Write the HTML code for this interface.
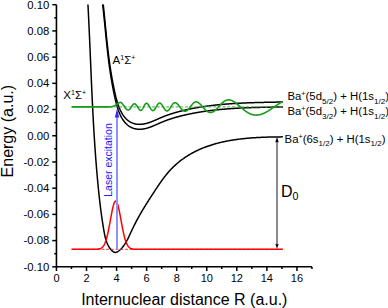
<!DOCTYPE html>
<html><head><meta charset="utf-8"><style>
html,body{margin:0;padding:0;background:#fff;overflow:hidden;width:388px;height:308px;}
svg{display:block;font-family:"Liberation Sans",sans-serif;}
</style></head><body>
<svg width="388" height="308" viewBox="0 0 388 308">
<line x1="56.45" y1="4.699999999999989" x2="56.45" y2="267.6" stroke="#000" stroke-width="1.6"/>
<line x1="55.650000000000006" y1="266.8" x2="311.96" y2="266.8" stroke="#000" stroke-width="1.6"/>
<line x1="52.25" y1="266.80" x2="56.45" y2="266.80" stroke="#000" stroke-width="1.5"/>
<line x1="54.25" y1="253.69" x2="56.45" y2="253.69" stroke="#000" stroke-width="1.5"/>
<line x1="52.25" y1="240.59" x2="56.45" y2="240.59" stroke="#000" stroke-width="1.5"/>
<line x1="54.25" y1="227.49" x2="56.45" y2="227.49" stroke="#000" stroke-width="1.5"/>
<line x1="52.25" y1="214.38" x2="56.45" y2="214.38" stroke="#000" stroke-width="1.5"/>
<line x1="54.25" y1="201.28" x2="56.45" y2="201.28" stroke="#000" stroke-width="1.5"/>
<line x1="52.25" y1="188.17" x2="56.45" y2="188.17" stroke="#000" stroke-width="1.5"/>
<line x1="54.25" y1="175.06" x2="56.45" y2="175.06" stroke="#000" stroke-width="1.5"/>
<line x1="52.25" y1="161.96" x2="56.45" y2="161.96" stroke="#000" stroke-width="1.5"/>
<line x1="54.25" y1="148.85" x2="56.45" y2="148.85" stroke="#000" stroke-width="1.5"/>
<line x1="52.25" y1="135.75" x2="56.45" y2="135.75" stroke="#000" stroke-width="1.5"/>
<line x1="54.25" y1="122.64" x2="56.45" y2="122.64" stroke="#000" stroke-width="1.5"/>
<line x1="52.25" y1="109.54" x2="56.45" y2="109.54" stroke="#000" stroke-width="1.5"/>
<line x1="54.25" y1="96.44" x2="56.45" y2="96.44" stroke="#000" stroke-width="1.5"/>
<line x1="52.25" y1="83.33" x2="56.45" y2="83.33" stroke="#000" stroke-width="1.5"/>
<line x1="54.25" y1="70.22" x2="56.45" y2="70.22" stroke="#000" stroke-width="1.5"/>
<line x1="52.25" y1="57.12" x2="56.45" y2="57.12" stroke="#000" stroke-width="1.5"/>
<line x1="54.25" y1="44.01" x2="56.45" y2="44.01" stroke="#000" stroke-width="1.5"/>
<line x1="52.25" y1="30.91" x2="56.45" y2="30.91" stroke="#000" stroke-width="1.5"/>
<line x1="54.25" y1="17.81" x2="56.45" y2="17.81" stroke="#000" stroke-width="1.5"/>
<line x1="52.25" y1="4.70" x2="56.45" y2="4.70" stroke="#000" stroke-width="1.5"/>
<line x1="56.45" y1="266.8" x2="56.45" y2="271.0" stroke="#000" stroke-width="1.5"/>
<line x1="71.48" y1="266.8" x2="71.48" y2="269.0" stroke="#000" stroke-width="1.5"/>
<line x1="86.51" y1="266.8" x2="86.51" y2="271.0" stroke="#000" stroke-width="1.5"/>
<line x1="101.54" y1="266.8" x2="101.54" y2="269.0" stroke="#000" stroke-width="1.5"/>
<line x1="116.57" y1="266.8" x2="116.57" y2="271.0" stroke="#000" stroke-width="1.5"/>
<line x1="131.60" y1="266.8" x2="131.60" y2="269.0" stroke="#000" stroke-width="1.5"/>
<line x1="146.63" y1="266.8" x2="146.63" y2="271.0" stroke="#000" stroke-width="1.5"/>
<line x1="161.66" y1="266.8" x2="161.66" y2="269.0" stroke="#000" stroke-width="1.5"/>
<line x1="176.69" y1="266.8" x2="176.69" y2="271.0" stroke="#000" stroke-width="1.5"/>
<line x1="191.72" y1="266.8" x2="191.72" y2="269.0" stroke="#000" stroke-width="1.5"/>
<line x1="206.75" y1="266.8" x2="206.75" y2="271.0" stroke="#000" stroke-width="1.5"/>
<line x1="221.78" y1="266.8" x2="221.78" y2="269.0" stroke="#000" stroke-width="1.5"/>
<line x1="236.81" y1="266.8" x2="236.81" y2="271.0" stroke="#000" stroke-width="1.5"/>
<line x1="251.84" y1="266.8" x2="251.84" y2="269.0" stroke="#000" stroke-width="1.5"/>
<line x1="266.87" y1="266.8" x2="266.87" y2="271.0" stroke="#000" stroke-width="1.5"/>
<line x1="281.90" y1="266.8" x2="281.90" y2="269.0" stroke="#000" stroke-width="1.5"/>
<line x1="296.93" y1="266.8" x2="296.93" y2="271.0" stroke="#000" stroke-width="1.5"/>
<line x1="311.96" y1="266.8" x2="311.96" y2="269.0" stroke="#000" stroke-width="1.5"/>
<text x="49.3" y="270.70" text-anchor="end" font-size="11.3">-0.10</text>
<text x="49.3" y="244.49" text-anchor="end" font-size="11.3">-0.08</text>
<text x="49.3" y="218.28" text-anchor="end" font-size="11.3">-0.06</text>
<text x="49.3" y="192.07" text-anchor="end" font-size="11.3">-0.04</text>
<text x="49.3" y="165.86" text-anchor="end" font-size="11.3">-0.02</text>
<text x="49.3" y="139.65" text-anchor="end" font-size="11.3">0.00</text>
<text x="49.3" y="113.44" text-anchor="end" font-size="11.3">0.02</text>
<text x="49.3" y="87.23" text-anchor="end" font-size="11.3">0.04</text>
<text x="49.3" y="61.02" text-anchor="end" font-size="11.3">0.06</text>
<text x="49.3" y="34.81" text-anchor="end" font-size="11.3">0.08</text>
<text x="49.3" y="8.60" text-anchor="end" font-size="11.3">0.10</text>
<text x="56.45" y="282" text-anchor="middle" font-size="11">0</text>
<text x="86.51" y="282" text-anchor="middle" font-size="11">2</text>
<text x="116.57" y="282" text-anchor="middle" font-size="11">4</text>
<text x="146.63" y="282" text-anchor="middle" font-size="11">6</text>
<text x="176.69" y="282" text-anchor="middle" font-size="11">8</text>
<text x="206.75" y="282" text-anchor="middle" font-size="11">10</text>
<text x="236.81" y="282" text-anchor="middle" font-size="11">12</text>
<text x="266.87" y="282" text-anchor="middle" font-size="11">14</text>
<text x="296.93" y="282" text-anchor="middle" font-size="11">16</text>
<text x="184.3" y="304.6" text-anchor="middle" font-size="16">Internuclear distance R (a.u.)</text>
<text transform="translate(12.7 131.2) rotate(-90)" x="0" y="0" text-anchor="middle" font-size="16">Energy (a.u.)</text>
<defs><clipPath id="pc"><rect x="57" y="4.5" width="256" height="262"/></clipPath></defs><g clip-path="url(#pc)">
<path d="M87.37 -5.95L87.42 -5.15L87.46 -4.34L87.51 -3.54L87.55 -2.74L87.60 -1.93L87.64 -1.13L87.69 -0.32L87.73 0.48L87.78 1.29L87.82 2.09L87.86 2.90L87.91 3.70L87.95 4.51L87.99 5.31L88.03 6.12L88.08 6.92L88.12 7.73L88.16 8.54L88.20 9.34L88.24 10.15L88.28 10.95L88.32 11.76L88.36 12.57L88.40 13.37L88.44 14.18L88.48 14.99L88.52 15.79L88.56 16.60L88.60 17.41L88.64 18.21L88.68 19.02L88.72 19.83L88.76 20.63L88.80 21.44L88.84 22.25L88.87 23.06L88.91 23.86L88.95 24.67L88.99 25.48L89.02 26.29L89.06 27.09L89.10 27.90L89.14 28.71L89.17 29.52L89.21 30.32L89.25 31.13L89.28 31.94L89.32 32.75L89.36 33.56L89.39 34.37L89.43 35.17L89.46 35.98L89.50 36.79L89.53 37.60L89.57 38.41L89.61 39.22L89.64 40.03L89.68 40.83L89.71 41.64L89.75 42.45L89.78 43.26L89.82 44.07L89.85 44.88L89.89 45.69L89.92 46.50L89.96 47.31L89.99 48.12L90.03 48.92L90.06 49.73L90.10 50.54L90.13 51.35L90.16 52.16L90.20 52.97L90.23 53.78L90.27 54.59L90.30 55.40L90.34 56.21L90.37 57.02L90.40 57.83L90.44 58.64L90.47 59.45L90.51 60.26L90.54 61.07L90.58 61.88L90.61 62.69L90.65 63.50L90.68 64.31L90.71 65.12L90.75 65.93L90.78 66.74L90.82 67.55L90.85 68.36L90.89 69.17L90.92 69.98L90.96 70.79L90.99 71.60L91.02 72.41L91.06 73.22L91.09 74.03L91.13 74.84L91.16 75.65L91.20 76.46L91.23 77.27L91.27 78.08L91.30 78.89L91.34 79.70L91.38 80.51L91.41 81.32L91.45 82.13L91.48 82.94L91.52 83.75L91.55 84.56L91.59 85.37L91.63 86.18L91.66 86.99L91.70 87.80L91.74 88.61L91.77 89.42L91.81 90.23L91.85 91.04L91.88 91.85L91.92 92.66L91.96 93.47L92.00 94.28L92.03 95.09L92.07 95.90L92.11 96.71L92.15 97.52L92.19 98.33L92.22 99.14L92.26 99.95L92.30 100.76L92.34 101.57L92.38 102.38L92.42 103.19L92.46 104.00L92.50 104.80L92.54 105.61L92.58 106.42L92.62 107.23L92.66 108.04L92.70 108.85L92.74 109.66L92.78 110.47L92.82 111.28L92.87 112.09L92.91 112.90L92.95 113.71L92.99 114.52L93.03 115.33L93.08 116.14L93.12 116.94L93.16 117.75L93.21 118.56L93.25 119.37L93.30 120.18L93.34 120.99L93.38 121.80L93.43 122.61L93.47 123.41L93.52 124.22L93.57 125.03L93.61 125.84L93.66 126.65L93.71 127.46L93.75 128.26L93.80 129.07L93.85 129.88L93.89 130.69L93.94 131.50L93.99 132.30L94.04 133.11L94.09 133.92L94.14 134.73L94.19 135.53L94.24 136.34L94.29 137.15L94.34 137.96L94.39 138.76L94.44 139.57L94.50 140.38L94.55 141.19L94.60 141.99L94.65 142.80L94.71 143.61L94.76 144.41L94.81 145.22L94.87 146.03L94.92 146.83L94.98 147.64L95.04 148.45L95.09 149.25L95.15 150.06L95.20 150.86L95.26 151.67L95.32 152.48L95.38 153.28L95.44 154.09L95.49 154.89L95.55 155.70L95.61 156.50L95.67 157.31L95.73 158.11L95.80 158.92L95.86 159.72L95.92 160.53L95.98 161.33L96.04 162.14L96.11 162.94L96.17 163.75L96.24 164.55L96.30 165.35L96.37 166.16L96.43 166.96L96.50 167.77L96.56 168.57L96.63 169.37L96.70 170.18L96.77 170.98L96.84 171.78L96.90 172.59L96.97 173.39L97.04 174.19L97.11 174.99L97.19 175.80L97.26 176.60L97.33 177.40L97.40 178.20L97.47 179.01L97.55 179.81L97.62 180.61L97.70 181.41L97.77 182.21L97.85 183.01L97.92 183.81L98.00 184.62L98.08 185.42L98.16 186.22L98.24 187.02L98.31 187.82L98.39 188.62L98.47 189.42L98.56 190.22L98.64 191.02L98.72 191.82L98.80 192.62L98.89 193.42L98.97 194.22L99.05 195.02L99.14 195.82L99.23 196.62L99.31 197.42L99.40 198.22L99.49 199.02L99.58 199.82L99.67 200.62L99.76 201.42L99.85 202.22L99.95 203.02L100.04 203.82L100.14 204.62L100.23 205.42L100.33 206.22L100.43 207.03L100.53 207.83L100.63 208.63L100.73 209.44L100.84 210.24L100.94 211.04L101.05 211.85L101.16 212.66L101.26 213.46L101.37 214.27L101.48 215.08L101.60 215.88L101.71 216.69L101.83 217.50L101.94 218.31L102.06 219.12L102.18 219.93L102.30 220.75L102.43 221.56L102.55 222.37L102.68 223.19L102.81 224.00L102.94 224.82L103.07 225.64L103.20 226.46L103.34 227.28L103.47 228.10L103.61 228.92L103.75 229.74L103.89 230.56L104.04 231.39L104.19 232.21L104.34 233.04L104.50 233.86L104.66 234.68L104.83 235.49L105.01 236.31L105.20 237.12L105.40 237.92L105.61 238.72L105.84 239.51L106.07 240.29L106.32 241.06L106.59 241.83L106.87 242.59L107.18 243.33L107.49 244.07L107.83 244.79L108.19 245.50L108.57 246.20L108.98 246.88L109.40 247.55L109.85 248.20L110.33 248.83L110.83 249.45L111.37 250.05L111.92 250.63L112.51 251.17L113.12 251.65L113.74 252.05L114.38 252.33L115.03 252.48L115.69 252.48L116.36 252.33L117.02 252.06L117.68 251.69L118.32 251.25L118.95 250.77L119.57 250.26L120.16 249.73L120.73 249.18L121.29 248.61L121.83 248.03L122.35 247.43L122.85 246.82L123.34 246.19L123.82 245.55L124.28 244.90L124.73 244.23L125.17 243.55L125.60 242.86L126.02 242.16L126.42 241.45L126.82 240.73L127.21 240.01L127.59 239.28L127.97 238.54L128.33 237.80L128.70 237.05L129.06 236.30L129.41 235.54L129.77 234.78L130.12 234.03L130.46 233.27L130.81 232.51L131.16 231.75L131.51 230.99L131.86 230.23L132.21 229.48L132.57 228.73L132.92 227.99L133.28 227.24L133.65 226.50L134.01 225.77L134.38 225.03L134.75 224.30L135.12 223.57L135.49 222.85L135.87 222.12L136.25 221.40L136.63 220.68L137.01 219.97L137.39 219.25L137.78 218.54L138.17 217.83L138.56 217.13L138.95 216.42L139.35 215.72L139.74 215.02L140.14 214.32L140.54 213.62L140.95 212.92L141.35 212.23L141.76 211.54L142.16 210.85L142.57 210.16L142.98 209.47L143.40 208.78L143.81 208.10L144.23 207.42L144.65 206.73L145.06 206.05L145.49 205.37L145.91 204.69L146.33 204.01L146.76 203.33L147.18 202.66L147.61 201.98L148.04 201.30L148.47 200.63L148.90 199.95L149.33 199.28L149.77 198.61L150.20 197.93L150.64 197.26L151.08 196.59L151.51 195.91L151.95 195.24L152.39 194.57L152.84 193.89L153.28 193.22L153.72 192.54L154.17 191.87L154.61 191.20L155.06 190.52L155.50 189.85L155.95 189.17L156.40 188.49L156.85 187.82L157.30 187.14L157.75 186.46L158.21 185.79L158.66 185.11L159.12 184.44L159.58 183.77L160.05 183.10L160.51 182.43L160.98 181.76L161.45 181.09L161.92 180.43L162.40 179.77L162.88 179.11L163.37 178.45L163.85 177.80L164.35 177.15L164.84 176.50L165.34 175.86L165.85 175.22L166.36 174.59L166.87 173.96L167.39 173.33L167.92 172.71L168.45 172.09L168.98 171.48L169.52 170.87L170.07 170.27L170.62 169.68L171.18 169.09L171.75 168.50L172.32 167.92L172.89 167.35L173.47 166.79L174.06 166.23L174.66 165.67L175.25 165.12L175.86 164.58L176.47 164.04L177.08 163.51L177.70 162.99L178.32 162.47L178.95 161.96L179.58 161.45L180.22 160.95L180.86 160.45L181.51 159.96L182.16 159.48L182.82 159.01L183.48 158.54L184.14 158.07L184.81 157.61L185.48 157.16L186.15 156.72L186.83 156.28L187.51 155.84L188.20 155.42L188.88 155.00L189.58 154.58L190.27 154.18L190.97 153.78L191.67 153.38L192.37 152.99L193.08 152.61L193.79 152.23L194.50 151.86L195.22 151.50L195.94 151.14L196.66 150.79L197.38 150.45L198.11 150.11L198.84 149.77L199.57 149.44L200.30 149.12L201.04 148.80L201.78 148.49L202.52 148.18L203.26 147.88L204.01 147.59L204.76 147.30L205.51 147.02L206.26 146.74L207.01 146.46L207.77 146.19L208.53 145.93L209.29 145.67L210.05 145.42L210.82 145.17L211.59 144.93L212.36 144.69L213.13 144.45L213.90 144.23L214.67 144.00L215.45 143.78L216.23 143.57L217.01 143.36L217.79 143.15L218.57 142.95L219.36 142.75L220.14 142.56L220.93 142.37L221.72 142.19L222.51 142.01L223.30 141.83L224.10 141.66L224.89 141.50L225.69 141.33L226.48 141.17L227.28 141.02L228.08 140.87L228.88 140.72L229.68 140.58L230.48 140.44L231.29 140.30L232.09 140.17L232.89 140.04L233.70 139.91L234.51 139.79L235.31 139.67L236.12 139.55L236.93 139.44L237.74 139.33L238.55 139.23L239.36 139.13L240.17 139.03L240.98 138.93L241.80 138.84L242.61 138.75L243.42 138.66L244.23 138.57L245.05 138.49L245.86 138.41L246.67 138.34L247.49 138.26L248.30 138.19L249.12 138.12L249.93 138.06L250.75 137.99L251.56 137.93L252.37 137.87L253.19 137.81L254.00 137.76L254.82 137.71L255.63 137.66L256.44 137.61L257.26 137.56L258.07 137.52L258.88 137.48L259.69 137.44L260.50 137.40L261.32 137.36L262.13 137.33L262.94 137.29L263.74 137.26L264.55 137.23L265.36 137.20L266.17 137.17L266.97 137.15L267.78 137.12L268.58 137.10L269.39 137.08L270.19 137.06L270.99 137.04L271.79 137.02L272.59 137.00L273.39 136.99L274.19 136.97L274.99 136.96L275.78 136.94L276.58 136.93L277.37 136.92L278.16 136.91L278.95 136.90L279.74 136.89L280.52 136.88L281.31 136.87L282.09 136.86L282.88 136.85" fill="none" stroke="#000" stroke-width="1.5"/>
<path d="M101.99 -6.29L102.05 -5.78L102.12 -5.26L102.18 -4.75L102.24 -4.23L102.30 -3.72L102.36 -3.21L102.42 -2.69L102.48 -2.18L102.54 -1.67L102.60 -1.16L102.65 -0.66L102.71 -0.15L102.77 0.36L102.83 0.86L102.88 1.37L102.94 1.87L103.00 2.38L103.05 2.88L103.11 3.38L103.16 3.88L103.22 4.38L103.27 4.88L103.32 5.38L103.38 5.88L103.43 6.37L103.48 6.87L103.54 7.36L103.59 7.86L103.64 8.35L103.69 8.85L103.74 9.34L103.79 9.83L103.85 10.32L103.90 10.81L103.95 11.30L104.00 11.79L104.05 12.28L104.10 12.77L104.15 13.26L104.20 13.74L104.25 14.23L104.29 14.71L104.34 15.20L104.39 15.68L104.44 16.17L104.49 16.65L104.54 17.13L104.59 17.62L104.63 18.10L104.68 18.58L104.73 19.06L104.78 19.54L104.82 20.02L104.87 20.50L104.92 20.98L104.97 21.46L105.01 21.93L105.06 22.41L105.11 22.89L105.15 23.36L105.20 23.84L105.25 24.32L105.29 24.79L105.34 25.27L105.39 25.74L105.43 26.21L105.48 26.69L105.53 27.16L105.57 27.63L105.62 28.11L105.67 28.58L105.71 29.05L105.76 29.52L105.81 29.99L105.85 30.46L105.90 30.94L105.95 31.41L105.99 31.88L106.04 32.35L106.09 32.82L106.13 33.28L106.18 33.75L106.23 34.22L106.28 34.69L106.32 35.16L106.37 35.63L106.42 36.10L106.47 36.56L106.51 37.03L106.56 37.50L106.61 37.97L106.66 38.43L106.71 38.90L106.76 39.37L106.81 39.83L106.86 40.30L106.90 40.77L106.95 41.23L107.00 41.70L107.05 42.17L107.10 42.63L107.15 43.10L107.20 43.57L107.26 44.03L107.31 44.50L107.36 44.96L107.41 45.43L107.46 45.90L107.51 46.36L107.57 46.83L107.62 47.29L107.67 47.76L107.72 48.23L107.78 48.69L107.83 49.16L107.89 49.63L107.94 50.09L107.99 50.56L108.05 51.03L108.11 51.49L108.16 51.96L108.22 52.43L108.27 52.89L108.33 53.36L108.39 53.83L108.45 54.29L108.50 54.76L108.56 55.23L108.62 55.70L108.68 56.17L108.74 56.63L108.80 57.10L108.86 57.57L108.92 58.04L108.98 58.51L109.05 58.98L109.11 59.45L109.17 59.92L109.24 60.39L109.30 60.86L109.36 61.33L109.43 61.80L109.49 62.27L109.56 62.74L109.63 63.22L109.69 63.69L109.76 64.16L109.83 64.63L109.90 65.11L109.97 65.58L110.04 66.06L110.11 66.53L110.18 67.01L110.25 67.48L110.32 67.96L110.39 68.43L110.47 68.91L110.54 69.39L110.62 69.86L110.69 70.34L110.77 70.82L110.84 71.30L110.92 71.78L111.00 72.26L111.08 72.74L111.15 73.22L111.23 73.70L111.31 74.18L111.40 74.66L111.48 75.15L111.56 75.63L111.64 76.12L111.73 76.60L111.81 77.09L111.90 77.57L111.98 78.06L112.07 78.54L112.16 79.03L112.24 79.52L112.33 80.01L112.42 80.50L112.51 80.99L112.60 81.48L112.70 81.97L112.79 82.46L112.88 82.96L112.98 83.45L113.07 83.94L113.17 84.44L113.27 84.94L113.36 85.43L113.46 85.93L113.56 86.43L113.66 86.93L113.76 87.43L113.87 87.93L113.97 88.43L114.07 88.93L114.18 89.43L114.28 89.93L114.39 90.44L114.50 90.94L114.61 91.45L114.71 91.96L114.83 92.46L114.94 92.97L115.05 93.47L115.17 93.98L115.28 94.49L115.40 94.99L115.52 95.50L115.64 96.00L115.76 96.51L115.89 97.01L116.02 97.51L116.14 98.02L116.27 98.52L116.41 99.02L116.54 99.51L116.68 100.01L116.82 100.51L116.96 101.00L117.10 101.49L117.25 101.98L117.40 102.47L117.55 102.95L117.71 103.44L117.86 103.92L118.02 104.40L118.19 104.87L118.35 105.34L118.52 105.81L118.69 106.28L118.87 106.74L119.05 107.21L119.23 107.66L119.42 108.12L119.61 108.57L119.80 109.01L119.99 109.46L120.19 109.89L120.40 110.33L120.60 110.76L120.81 111.18L121.03 111.61L121.25 112.02L121.47 112.44L121.70 112.84L121.93 113.25L122.17 113.64L122.41 114.04L122.65 114.42L122.90 114.81L123.15 115.18L123.41 115.55L123.67 115.92L123.94 116.28L124.21 116.63L124.49 116.98L124.77 117.32L125.06 117.65L125.35 117.98L125.65 118.30L125.95 118.62L126.26 118.93L126.58 119.23L126.90 119.52L127.22 119.81L127.55 120.09L127.89 120.36L128.23 120.63L128.57 120.88L128.93 121.13L129.29 121.38L129.65 121.61L130.02 121.84L130.40 122.05L130.78 122.26L131.17 122.46L131.57 122.65L131.97 122.84L132.37 123.01L132.79 123.17L133.20 123.33L133.62 123.47L134.05 123.61L134.48 123.73L134.91 123.85L135.35 123.95L135.79 124.04L136.23 124.12L136.68 124.19L137.13 124.25L137.59 124.30L138.05 124.33L138.51 124.36L138.97 124.37L139.43 124.38L139.90 124.37L140.37 124.36L140.84 124.33L141.32 124.30L141.79 124.25L142.27 124.20L142.74 124.14L143.22 124.07L143.70 123.99L144.18 123.90L144.66 123.81L145.14 123.71L145.63 123.60L146.11 123.48L146.59 123.36L147.07 123.23L147.55 123.09L148.03 122.95L148.51 122.80L148.99 122.64L149.47 122.48L149.95 122.31L150.42 122.14L150.90 121.97L151.37 121.78L151.84 121.60L152.32 121.41L152.79 121.22L153.26 121.02L153.72 120.83L154.19 120.63L154.66 120.42L155.13 120.22L155.59 120.02L156.06 119.81L156.52 119.60L156.99 119.40L157.45 119.19L157.92 118.98L158.38 118.78L158.84 118.57L159.30 118.37L159.77 118.17L160.23 117.97L160.69 117.77L161.15 117.57L161.61 117.38L162.07 117.19L162.53 117.00L163.00 116.82L163.46 116.63L163.92 116.45L164.38 116.27L164.84 116.09L165.30 115.92L165.76 115.75L166.22 115.58L166.68 115.41L167.14 115.24L167.60 115.08L168.06 114.91L168.52 114.75L168.98 114.59L169.44 114.43L169.90 114.28L170.36 114.13L170.83 113.97L171.29 113.82L171.75 113.68L172.21 113.53L172.67 113.39L173.13 113.24L173.59 113.10L174.05 112.96L174.51 112.82L174.97 112.69L175.43 112.55L175.90 112.42L176.36 112.29L176.82 112.16L177.28 112.03L177.74 111.90L178.21 111.78L178.67 111.65L179.13 111.53L179.60 111.41L180.06 111.29L180.52 111.17L180.99 111.05L181.45 110.93L181.92 110.82L182.38 110.70L182.85 110.59L183.31 110.48L183.78 110.37L184.24 110.26L184.71 110.15L185.17 110.04L185.64 109.93L186.11 109.83L186.58 109.73L187.04 109.62L187.51 109.52L187.98 109.42L188.45 109.32L188.92 109.22L189.39 109.12L189.86 109.02L190.33 108.93L190.80 108.83L191.27 108.74L191.74 108.64L192.21 108.55L192.69 108.46L193.16 108.37L193.63 108.28L194.10 108.19L194.58 108.10L195.05 108.01L195.52 107.93L196.00 107.84L196.47 107.76L196.95 107.67L197.42 107.59L197.89 107.51L198.37 107.43L198.85 107.35L199.32 107.27L199.80 107.19L200.27 107.12L200.75 107.04L201.23 106.96L201.70 106.89L202.18 106.81L202.66 106.74L203.14 106.67L203.61 106.60L204.09 106.53L204.57 106.46L205.05 106.39L205.53 106.32L206.01 106.25L206.49 106.19L206.97 106.12L207.45 106.06L207.93 105.99L208.41 105.93L208.89 105.87L209.37 105.80L209.85 105.74L210.33 105.68L210.81 105.62L211.29 105.56L211.77 105.51L212.25 105.45L212.74 105.39L213.22 105.34L213.70 105.28L214.18 105.23L214.66 105.17L215.15 105.12L215.63 105.07L216.11 105.01L216.60 104.96L217.08 104.91L217.56 104.86L218.05 104.81L218.53 104.77L219.01 104.72L219.50 104.67L219.98 104.62L220.47 104.58L220.95 104.53L221.44 104.49L221.92 104.44L222.41 104.40L222.89 104.36L223.38 104.32L223.86 104.27L224.35 104.23L224.83 104.19L225.32 104.15L225.80 104.11L226.29 104.07L226.77 104.04L227.26 104.00L227.74 103.96L228.23 103.93L228.72 103.89L229.20 103.85L229.69 103.82L230.18 103.78L230.66 103.75L231.15 103.72L231.63 103.68L232.12 103.65L232.61 103.62L233.09 103.59L233.58 103.56L234.07 103.53L234.55 103.50L235.04 103.47L235.53 103.44L236.02 103.41L236.50 103.38L236.99 103.36L237.48 103.33L237.96 103.30L238.45 103.28L238.94 103.25L239.42 103.22L239.91 103.20L240.40 103.18L240.89 103.15L241.37 103.13L241.86 103.10L242.35 103.08L242.83 103.06L243.32 103.04L243.81 103.01L244.30 102.99L244.78 102.97L245.27 102.95L245.76 102.93L246.24 102.91L246.73 102.89L247.22 102.87L247.70 102.85L248.19 102.83L248.68 102.82L249.16 102.80L249.65 102.78L250.14 102.76L250.62 102.75L251.11 102.73L251.60 102.71L252.08 102.70L252.57 102.68L253.06 102.66L253.54 102.65L254.03 102.63L254.52 102.62L255.00 102.60L255.49 102.59L255.97 102.58L256.46 102.56L256.94 102.55L257.43 102.53L257.92 102.52L258.40 102.51L258.89 102.49L259.37 102.48L259.86 102.47L260.34 102.46L260.83 102.45L261.31 102.43L261.80 102.42L262.28 102.41L262.76 102.40L263.25 102.39L263.73 102.38L264.22 102.37L264.70 102.35L265.18 102.34L265.67 102.33L266.15 102.32L266.63 102.31L267.12 102.30L267.60 102.29L268.08 102.28L268.56 102.27L269.05 102.26L269.53 102.25L270.01 102.24L270.49 102.23L270.97 102.22L271.46 102.22L271.94 102.21L272.42 102.20L272.90 102.19L273.38 102.18L273.86 102.17L274.34 102.16L274.82 102.15L275.30 102.14L275.78 102.13L276.26 102.12L276.74 102.11L277.22 102.11L277.70 102.10L278.18 102.09L278.66 102.08L279.13 102.07L279.61 102.06L280.09 102.05L280.57 102.04L281.04 102.03L281.52 102.02L282.00 102.01L282.47 102.00L282.95 102.00" fill="none" stroke="#000" stroke-width="1.5"/>
<path d="M101.99 -1.39L102.05 -0.88L102.12 -0.36L102.18 0.15L102.24 0.67L102.30 1.18L102.36 1.69L102.42 2.21L102.48 2.72L102.54 3.23L102.60 3.74L102.65 4.24L102.71 4.75L102.77 5.26L102.83 5.76L102.88 6.27L102.94 6.77L103.00 7.28L103.05 7.78L103.11 8.28L103.16 8.78L103.22 9.28L103.27 9.78L103.32 10.28L103.38 10.78L103.43 11.27L103.48 11.77L103.54 12.26L103.59 12.76L103.64 13.25L103.69 13.75L103.74 14.24L103.79 14.73L103.85 15.22L103.90 15.71L103.95 16.20L104.00 16.69L104.05 17.18L104.10 17.67L104.15 18.16L104.20 18.64L104.25 19.13L104.29 19.61L104.34 20.10L104.39 20.58L104.44 21.07L104.49 21.55L104.54 22.03L104.59 22.52L104.63 23.00L104.68 23.48L104.73 23.96L104.78 24.44L104.82 24.92L104.87 25.40L104.92 25.88L104.97 26.36L105.01 26.83L105.06 27.31L105.11 27.79L105.15 28.26L105.20 28.74L105.25 29.22L105.29 29.69L105.34 30.17L105.39 30.64L105.43 31.11L105.48 31.59L105.53 32.06L105.57 32.53L105.62 33.01L105.67 33.48L105.71 33.95L105.76 34.42L105.81 34.89L105.85 35.36L105.90 35.84L105.95 36.31L105.99 36.78L106.04 37.25L106.09 37.72L106.13 38.18L106.18 38.65L106.23 39.12L106.28 39.59L106.32 40.06L106.37 40.53L106.42 41.00L106.47 41.46L106.51 41.93L106.56 42.40L106.61 42.87L106.66 43.33L106.71 43.80L106.76 44.27L106.81 44.73L106.86 45.20L106.90 45.67L106.95 46.13L107.00 46.60L107.05 47.07L107.10 47.53L107.15 48.00L107.20 48.47L107.26 48.93L107.31 49.40L107.36 49.86L107.41 50.33L107.46 50.80L107.51 51.26L107.57 51.73L107.62 52.19L107.67 52.66L107.72 53.13L107.78 53.59L107.83 54.06L107.89 54.53L107.94 54.99L107.99 55.46L108.05 55.93L108.11 56.39L108.16 56.86L108.22 57.33L108.27 57.79L108.33 58.26L108.39 58.73L108.45 59.19L108.50 59.66L108.56 60.13L108.62 60.60L108.68 61.07L108.74 61.53L108.80 62.00L108.86 62.47L108.92 62.94L108.98 63.41L109.05 63.88L109.11 64.35L109.17 64.82L109.24 65.29L109.30 65.76L109.36 66.23L109.43 66.70L109.49 67.17L109.56 67.64L109.63 68.12L109.69 68.59L109.76 69.06L109.83 69.53L109.90 70.01L109.97 70.48L110.04 70.96L110.11 71.43L110.18 71.91L110.25 72.38L110.32 72.86L110.39 73.33L110.47 73.81L110.54 74.29L110.62 74.76L110.69 75.24L110.77 75.72L110.84 76.20L110.92 76.68L111.00 77.16L111.08 77.64L111.15 78.12L111.23 78.60L111.31 79.08L111.40 79.56L111.48 80.05L111.56 80.53L111.64 81.02L111.73 81.50L111.81 81.99L111.90 82.47L111.98 82.96L112.07 83.44L112.16 83.93L112.24 84.42L112.33 84.91L112.42 85.40L112.51 85.89L112.60 86.38L112.70 86.87L112.79 87.36L112.88 87.86L112.98 88.35L113.07 88.84L113.17 89.34L113.27 89.84L113.36 90.33L113.46 90.83L113.56 91.33L113.66 91.83L113.76 92.33L113.87 92.83L113.97 93.33L114.07 93.83L114.18 94.33L114.28 94.83L114.39 95.34L114.50 95.84L114.61 96.35L114.71 96.86L114.83 97.36L114.94 97.87L115.05 98.37L115.17 98.88L115.28 99.39L115.40 99.89L115.52 100.40L115.64 100.90L115.76 101.41L115.89 101.91L116.02 102.41L116.14 102.92L116.27 103.42L116.41 103.92L116.54 104.41L116.68 104.91L116.82 105.41L116.96 105.90L117.10 106.39L117.25 106.88L117.40 107.37L117.55 107.85L117.71 108.34L117.86 108.82L118.02 109.30L118.19 109.77L118.35 110.24L118.52 110.71L118.69 111.18L118.87 111.64L119.05 112.11L119.23 112.56L119.42 113.02L119.61 113.47L119.80 113.91L119.99 114.36L120.19 114.79L120.40 115.23L120.60 115.66L120.81 116.08L121.03 116.51L121.25 116.92L121.47 117.34L121.70 117.74L121.93 118.15L122.17 118.54L122.41 118.94L122.65 119.32L122.90 119.71L123.15 120.08L123.41 120.45L123.67 120.82L123.94 121.18L124.21 121.53L124.49 121.88L124.77 122.22L125.06 122.55L125.35 122.88L125.65 123.20L125.95 123.52L126.26 123.83L126.58 124.13L126.90 124.42L127.22 124.71L127.55 124.99L127.89 125.26L128.23 125.53L128.57 125.78L128.93 126.03L129.29 126.28L129.65 126.51L130.02 126.74L130.40 126.95L130.78 127.16L131.17 127.36L131.57 127.55L131.97 127.74L132.37 127.91L132.79 128.07L133.20 128.23L133.62 128.37L134.05 128.51L134.48 128.63L134.91 128.75L135.35 128.85L135.79 128.94L136.23 129.02L136.68 129.09L137.13 129.15L137.59 129.20L138.05 129.23L138.51 129.26L138.97 129.27L139.43 129.28L139.90 129.27L140.37 129.26L140.84 129.23L141.32 129.20L141.79 129.15L142.27 129.10L142.74 129.04L143.22 128.97L143.70 128.89L144.18 128.80L144.66 128.71L145.14 128.61L145.63 128.50L146.11 128.38L146.59 128.26L147.07 128.13L147.55 127.99L148.03 127.85L148.51 127.70L148.99 127.54L149.47 127.38L149.95 127.21L150.42 127.04L150.90 126.87L151.37 126.68L151.84 126.50L152.32 126.31L152.79 126.12L153.26 125.92L153.72 125.73L154.19 125.53L154.66 125.32L155.13 125.12L155.59 124.92L156.06 124.71L156.52 124.50L156.99 124.30L157.45 124.09L157.92 123.88L158.38 123.68L158.84 123.47L159.30 123.27L159.77 123.07L160.23 122.87L160.69 122.67L161.15 122.47L161.61 122.28L162.07 122.09L162.53 121.90L163.00 121.72L163.46 121.53L163.92 121.35L164.38 121.17L164.84 120.99L165.30 120.82L165.76 120.65L166.22 120.48L166.68 120.31L167.14 120.14L167.60 119.98L168.06 119.81L168.52 119.65L168.98 119.49L169.44 119.33L169.90 119.18L170.36 119.03L170.83 118.87L171.29 118.72L171.75 118.58L172.21 118.43L172.67 118.29L173.13 118.14L173.59 118.00L174.05 117.86L174.51 117.72L174.97 117.59L175.43 117.45L175.90 117.32L176.36 117.19L176.82 117.06L177.28 116.93L177.74 116.80L178.21 116.68L178.67 116.55L179.13 116.43L179.60 116.31L180.06 116.19L180.52 116.07L180.99 115.95L181.45 115.83L181.92 115.72L182.38 115.60L182.85 115.49L183.31 115.38L183.78 115.27L184.24 115.16L184.71 115.05L185.17 114.94L185.64 114.83L186.11 114.73L186.58 114.63L187.04 114.52L187.51 114.42L187.98 114.32L188.45 114.22L188.92 114.12L189.39 114.02L189.86 113.92L190.33 113.83L190.80 113.73L191.27 113.64L191.74 113.54L192.21 113.45L192.69 113.36L193.16 113.27L193.63 113.18L194.10 113.09L194.58 113.00L195.05 112.91L195.52 112.83L196.00 112.74L196.47 112.66L196.95 112.57L197.42 112.49L197.89 112.41L198.37 112.33L198.85 112.25L199.32 112.17L199.80 112.09L200.27 112.02L200.75 111.94L201.23 111.86L201.70 111.79L202.18 111.71L202.66 111.64L203.14 111.57L203.61 111.50L204.09 111.43L204.57 111.36L205.05 111.29L205.53 111.22L206.01 111.15L206.49 111.09L206.97 111.02L207.45 110.96L207.93 110.89L208.41 110.83L208.89 110.77L209.37 110.70L209.85 110.64L210.33 110.58L210.81 110.52L211.29 110.46L211.77 110.41L212.25 110.35L212.74 110.29L213.22 110.24L213.70 110.18L214.18 110.13L214.66 110.07L215.15 110.02L215.63 109.97L216.11 109.91L216.60 109.86L217.08 109.81L217.56 109.76L218.05 109.71L218.53 109.67L219.01 109.62L219.50 109.57L219.98 109.52L220.47 109.48L220.95 109.43L221.44 109.39L221.92 109.34L222.41 109.30L222.89 109.26L223.38 109.22L223.86 109.17L224.35 109.13L224.83 109.09L225.32 109.05L225.80 109.01L226.29 108.97L226.77 108.94L227.26 108.90L227.74 108.86L228.23 108.83L228.72 108.79L229.20 108.75L229.69 108.72L230.18 108.68L230.66 108.65L231.15 108.62L231.63 108.58L232.12 108.55L232.61 108.52L233.09 108.49L233.58 108.46L234.07 108.43L234.55 108.40L235.04 108.37L235.53 108.34L236.02 108.31L236.50 108.28L236.99 108.26L237.48 108.23L237.96 108.20L238.45 108.18L238.94 108.15L239.42 108.12L239.91 108.10L240.40 108.08L240.89 108.05L241.37 108.03L241.86 108.00L242.35 107.98L242.83 107.96L243.32 107.94L243.81 107.91L244.30 107.89L244.78 107.87L245.27 107.85L245.76 107.83L246.24 107.81L246.73 107.79L247.22 107.77L247.70 107.75L248.19 107.73L248.68 107.72L249.16 107.70L249.65 107.68L250.14 107.66L250.62 107.65L251.11 107.63L251.60 107.61L252.08 107.60L252.57 107.58L253.06 107.56L253.54 107.55L254.03 107.53L254.52 107.52L255.00 107.50L255.49 107.49L255.97 107.48L256.46 107.46L256.94 107.45L257.43 107.43L257.92 107.42L258.40 107.41L258.89 107.39L259.37 107.38L259.86 107.37L260.34 107.36L260.83 107.35L261.31 107.33L261.80 107.32L262.28 107.31L262.76 107.30L263.25 107.29L263.73 107.28L264.22 107.27L264.70 107.25L265.18 107.24L265.67 107.23L266.15 107.22L266.63 107.21L267.12 107.20L267.60 107.19L268.08 107.18L268.56 107.17L269.05 107.16L269.53 107.15L270.01 107.14L270.49 107.13L270.97 107.12L271.46 107.12L271.94 107.11L272.42 107.10L272.90 107.09L273.38 107.08L273.86 107.07L274.34 107.06L274.82 107.05L275.30 107.04L275.78 107.03L276.26 107.02L276.74 107.01L277.22 107.01L277.70 107.00L278.18 106.99L278.66 106.98L279.13 106.97L279.61 106.96L280.09 106.95L280.57 106.94L281.04 106.93L281.52 106.92L282.00 106.91L282.47 106.90L282.95 106.90" fill="none" stroke="#000" stroke-width="1.5"/>
</g>
<line x1="71.48" y1="249.3" x2="281.9" y2="249.3" stroke="#ff3030" stroke-width="1" stroke-dasharray="2.9 1.8" stroke-dashoffset="2.9"/>
<line x1="71.48" y1="106.9" x2="281.9" y2="106.9" stroke="#44b044" stroke-width="1" stroke-dasharray="3 1.7" stroke-dashoffset="4.0"/>
<path d="M71.48 106.90L71.66 106.90L71.83 106.90L72.01 106.90L72.19 106.90L72.36 106.90L72.54 106.90L72.71 106.90L72.89 106.90L73.07 106.90L73.24 106.90L73.42 106.90L73.60 106.90L73.77 106.90L73.95 106.90L74.12 106.90L74.30 106.90L74.48 106.90L74.65 106.90L74.83 106.90L75.01 106.90L75.18 106.90L75.36 106.90L75.54 106.90L75.71 106.90L75.89 106.90L76.06 106.90L76.24 106.90L76.42 106.90L76.59 106.90L76.77 106.90L76.95 106.90L77.12 106.90L77.30 106.90L77.48 106.90L77.65 106.90L77.83 106.90L78.00 106.90L78.18 106.90L78.36 106.90L78.53 106.90L78.71 106.90L78.89 106.90L79.06 106.90L79.24 106.90L79.41 106.90L79.59 106.90L79.77 106.90L79.94 106.90L80.12 106.90L80.30 106.90L80.47 106.90L80.65 106.90L80.83 106.90L81.00 106.90L81.18 106.90L81.35 106.90L81.53 106.90L81.71 106.90L81.88 106.90L82.06 106.90L82.24 106.90L82.41 106.90L82.59 106.90L82.77 106.90L82.94 106.90L83.12 106.90L83.29 106.90L83.47 106.90L83.65 106.90L83.82 106.90L84.00 106.90L84.18 106.90L84.35 106.90L84.53 106.90L84.70 106.90L84.88 106.90L85.06 106.90L85.23 106.90L85.41 106.90L85.59 106.90L85.76 106.90L85.94 106.90L86.12 106.90L86.29 106.90L86.47 106.90L86.64 106.90L86.82 106.90L87.00 106.90L87.17 106.90L87.35 106.90L87.53 106.90L87.70 106.90L87.88 106.90L88.06 106.90L88.23 106.90L88.41 106.90L88.58 106.90L88.76 106.90L88.94 106.90L89.11 106.90L89.29 106.90L89.47 106.90L89.64 106.90L89.82 106.90L89.99 106.90L90.17 106.90L90.35 106.90L90.52 106.90L90.70 106.90L90.88 106.90L91.05 106.90L91.23 106.90L91.41 106.90L91.58 106.90L91.76 106.90L91.93 106.90L92.11 106.90L92.29 106.90L92.46 106.90L92.64 106.90L92.82 106.90L92.99 106.90L93.17 106.90L93.34 106.90L93.52 106.90L93.70 106.90L93.87 106.90L94.05 106.90L94.23 106.90L94.40 106.90L94.58 106.90L94.76 106.90L94.93 106.90L95.11 106.90L95.28 106.90L95.46 106.90L95.64 106.90L95.81 106.90L95.99 106.90L96.17 106.90L96.34 106.90L96.52 106.90L96.70 106.90L96.87 106.90L97.05 106.90L97.22 106.90L97.40 106.90L97.58 106.90L97.75 106.90L97.93 106.90L98.11 106.90L98.28 106.90L98.46 106.90L98.63 106.90L98.81 106.90L98.99 106.90L99.16 106.90L99.34 106.90L99.52 106.90L99.69 106.90L99.87 106.90L100.05 106.90L100.22 106.90L100.40 106.90L100.57 106.90L100.75 106.90L100.93 106.90L101.10 106.90L101.28 106.90L101.46 106.90L101.63 106.90L101.81 106.90L101.99 106.90L102.16 106.90L102.34 106.90L102.51 106.90L102.69 106.90L102.87 106.90L103.04 106.90L103.22 106.90L103.40 106.90L103.57 106.90L103.75 106.90L103.92 106.90L104.10 106.90L104.28 106.90L104.45 106.90L104.63 106.90L104.81 106.90L104.98 106.90L105.16 106.90L105.34 106.90L105.51 106.90L105.69 106.90L105.86 106.90L106.04 106.90L106.22 106.90L106.39 106.90L106.57 106.90L106.75 106.90L106.92 106.90L107.10 106.89L107.28 106.89L107.45 106.89L107.63 106.89L107.80 106.89L107.98 106.89L108.16 106.89L108.33 106.88L108.51 106.88L108.69 106.88L108.86 106.87L109.04 106.87L109.21 106.86L109.39 106.86L109.57 106.85L109.74 106.84L109.92 106.83L110.10 106.82L110.27 106.81L110.45 106.80L110.63 106.79L110.80 106.77L110.98 106.75L111.15 106.73L111.33 106.71L111.51 106.69L111.68 106.66L111.86 106.63L112.04 106.60L112.21 106.57L112.39 106.53L112.56 106.49L112.74 106.44L112.92 106.39L113.09 106.34L113.27 106.28L113.45 106.22L113.62 106.16L113.80 106.09L113.98 106.01L114.15 105.93L114.33 105.85L114.50 105.76L114.68 105.67L114.86 105.57L115.03 105.47L115.21 105.36L115.39 105.25L115.56 105.14L115.74 105.02L115.92 104.90L116.09 104.78L116.27 104.65L116.44 104.52L116.62 104.39L116.80 104.26L116.97 104.13L117.15 104.00L117.33 103.87L117.50 103.74L117.68 103.62L117.85 103.49L118.03 103.37L118.21 103.26L118.38 103.15L118.56 103.04L118.74 102.94L118.91 102.85L119.09 102.76L119.27 102.69L119.44 102.62L119.62 102.56L119.79 102.51L119.97 102.47L120.15 102.43L120.32 102.41L120.50 102.40L120.68 102.42L120.85 102.49L121.03 102.58L121.21 102.68L121.38 102.80L121.56 102.93L121.73 103.08L121.91 103.25L122.09 103.43L122.26 103.62L122.44 103.82L122.62 104.04L122.79 104.27L122.97 104.50L123.14 104.74L123.32 104.99L123.50 105.25L123.67 105.50L123.85 105.76L124.03 106.03L124.20 106.29L124.38 106.55L124.56 106.81L124.73 107.07L124.91 107.32L125.08 107.56L125.26 107.80L125.44 108.04L125.61 108.26L125.79 108.47L125.97 108.67L126.14 108.86L126.32 109.04L126.50 109.21L126.67 109.36L126.85 109.49L127.02 109.61L127.20 109.72L127.38 109.81L127.55 109.88L127.73 109.94L127.91 109.98L128.08 110.00L128.26 110.00L128.43 109.98L128.61 109.94L128.79 109.88L128.96 109.80L129.14 109.70L129.32 109.58L129.49 109.43L129.67 109.27L129.85 109.08L130.02 108.88L130.20 108.66L130.37 108.42L130.55 108.17L130.73 107.91L130.90 107.64L131.08 107.36L131.26 107.08L131.43 106.80L131.61 106.51L131.78 106.23L131.96 105.96L132.14 105.69L132.31 105.43L132.49 105.18L132.67 104.95L132.84 104.74L133.02 104.55L133.20 104.37L133.37 104.22L133.55 104.09L133.72 103.98L133.90 103.90L134.08 103.84L134.25 103.81L134.43 103.80L134.61 103.82L134.78 103.85L134.96 103.91L135.14 103.99L135.31 104.10L135.49 104.22L135.66 104.36L135.84 104.53L136.02 104.71L136.19 104.91L136.37 105.12L136.55 105.35L136.72 105.59L136.90 105.84L137.07 106.11L137.25 106.38L137.43 106.66L137.60 106.94L137.78 107.23L137.96 107.52L138.13 107.80L138.31 108.08L138.49 108.36L138.66 108.63L138.84 108.88L139.01 109.13L139.19 109.35L139.37 109.57L139.54 109.76L139.72 109.93L139.90 110.07L140.07 110.20L140.25 110.29L140.43 110.36L140.60 110.39L140.78 110.40L140.95 110.38L141.13 110.32L141.31 110.24L141.48 110.12L141.66 109.98L141.84 109.80L142.01 109.60L142.19 109.37L142.36 109.12L142.54 108.85L142.72 108.55L142.89 108.24L143.07 107.92L143.25 107.58L143.42 107.24L143.60 106.89L143.78 106.54L143.95 106.20L144.13 105.86L144.30 105.54L144.48 105.22L144.66 104.92L144.83 104.64L145.01 104.39L145.19 104.15L145.36 103.94L145.54 103.76L145.72 103.61L145.89 103.49L146.07 103.40L146.24 103.34L146.42 103.30L146.60 103.30L146.77 103.33L146.95 103.39L147.13 103.47L147.30 103.59L147.48 103.73L147.65 103.89L147.83 104.08L148.01 104.29L148.18 104.51L148.36 104.76L148.54 105.02L148.71 105.30L148.89 105.59L149.07 105.89L149.24 106.19L149.42 106.50L149.59 106.82L149.77 107.13L149.95 107.44L150.12 107.75L150.30 108.05L150.48 108.34L150.65 108.62L150.83 108.89L151.00 109.15L151.18 109.39L151.36 109.61L151.53 109.81L151.71 109.99L151.89 110.15L152.06 110.29L152.24 110.40L152.42 110.49L152.59 110.55L152.77 110.59L152.94 110.60L153.12 110.58L153.30 110.54L153.47 110.47L153.65 110.38L153.83 110.26L154.00 110.12L154.18 109.95L154.36 109.76L154.53 109.56L154.71 109.33L154.88 109.08L155.06 108.82L155.24 108.55L155.41 108.26L155.59 107.96L155.77 107.65L155.94 107.34L156.12 107.03L156.29 106.71L156.47 106.40L156.65 106.08L156.82 105.78L157.00 105.48L157.18 105.19L157.35 104.91L157.53 104.64L157.71 104.39L157.88 104.16L158.06 103.94L158.23 103.75L158.41 103.57L158.59 103.42L158.76 103.29L158.94 103.18L159.12 103.10L159.29 103.04L159.47 103.01L159.65 103.00L159.82 103.01L160.00 103.05L160.17 103.12L160.35 103.20L160.53 103.31L160.70 103.44L160.88 103.59L161.06 103.76L161.23 103.95L161.41 104.15L161.58 104.37L161.76 104.61L161.94 104.85L162.11 105.11L162.29 105.38L162.47 105.66L162.64 105.95L162.82 106.24L163.00 106.53L163.17 106.82L163.35 107.12L163.52 107.41L163.70 107.70L163.88 107.99L164.05 108.27L164.23 108.54L164.41 108.80L164.58 109.05L164.76 109.29L164.94 109.52L165.11 109.73L165.29 109.93L165.46 110.11L165.64 110.28L165.82 110.42L165.99 110.55L166.17 110.66L166.35 110.75L166.52 110.82L166.70 110.86L166.87 110.89L167.05 110.90L167.23 110.89L167.40 110.85L167.58 110.80L167.76 110.72L167.93 110.63L168.11 110.52L168.29 110.38L168.46 110.23L168.64 110.06L168.81 109.88L168.99 109.67L169.17 109.46L169.34 109.23L169.52 108.99L169.70 108.73L169.87 108.47L170.05 108.20L170.22 107.92L170.40 107.64L170.58 107.36L170.75 107.07L170.93 106.78L171.11 106.49L171.28 106.20L171.46 105.92L171.64 105.64L171.81 105.37L171.99 105.11L172.16 104.85L172.34 104.61L172.52 104.38L172.69 104.16L172.87 103.95L173.05 103.76L173.22 103.58L173.40 103.42L173.58 103.27L173.75 103.14L173.93 103.03L174.10 102.93L174.28 102.85L174.46 102.79L174.63 102.74L174.81 102.71L174.99 102.70L175.16 102.70L175.34 102.72L175.51 102.76L175.69 102.81L175.87 102.88L176.04 102.96L176.22 103.05L176.40 103.16L176.57 103.28L176.75 103.41L176.93 103.55L177.10 103.70L177.28 103.87L177.45 104.04L177.63 104.22L177.81 104.42L177.98 104.61L178.16 104.82L178.34 105.03L178.51 105.24L178.69 105.46L178.87 105.69L179.04 105.91L179.22 106.14L179.39 106.37L179.57 106.61L179.75 106.84L179.92 107.07L180.10 107.30L180.28 107.53L180.45 107.76L180.63 107.98L180.80 108.20L180.98 108.42L181.16 108.63L181.33 108.83L181.51 109.03L181.69 109.23L181.86 109.42L182.04 109.60L182.22 109.77L182.39 109.93L182.57 110.09L182.74 110.24L182.92 110.37L183.10 110.50L183.27 110.62L183.45 110.73L183.63 110.82L183.80 110.91L183.98 110.99L184.16 111.05L184.33 111.10L184.51 111.15L184.68 111.18L184.86 111.19L185.04 111.20L185.21 111.20L185.39 111.18L185.57 111.15L185.74 111.11L185.92 111.06L186.09 111.00L186.27 110.92L186.45 110.84L186.62 110.74L186.80 110.64L186.98 110.52L187.15 110.39L187.33 110.26L187.51 110.11L187.68 109.96L187.86 109.79L188.03 109.62L188.21 109.44L188.39 109.25L188.56 109.05L188.74 108.85L188.92 108.64L189.09 108.43L189.27 108.21L189.44 107.98L189.62 107.76L189.80 107.53L189.97 107.29L190.15 107.06L190.33 106.82L190.50 106.59L190.68 106.35L190.86 106.12L191.03 105.88L191.21 105.65L191.38 105.42L191.56 105.19L191.74 104.97L191.91 104.75L192.09 104.54L192.27 104.33L192.44 104.13L192.62 103.93L192.80 103.74L192.97 103.56L193.15 103.39L193.32 103.22L193.50 103.06L193.68 102.92L193.85 102.78L194.03 102.65L194.21 102.53L194.38 102.42L194.56 102.32L194.73 102.23L194.91 102.15L195.09 102.09L195.26 102.03L195.44 101.98L195.62 101.94L195.79 101.92L195.97 101.90L196.15 101.90L196.32 101.90L196.50 101.91L196.67 101.94L196.85 101.97L197.03 102.01L197.20 102.06L197.38 102.13L197.56 102.20L197.73 102.27L197.91 102.36L198.09 102.46L198.26 102.56L198.44 102.67L198.61 102.79L198.79 102.92L198.97 103.05L199.14 103.19L199.32 103.34L199.50 103.49L199.67 103.65L199.85 103.81L200.02 103.98L200.20 104.15L200.38 104.33L200.55 104.52L200.73 104.70L200.91 104.89L201.08 105.08L201.26 105.28L201.44 105.48L201.61 105.68L201.79 105.88L201.96 106.09L202.14 106.29L202.32 106.50L202.49 106.70L202.67 106.91L202.85 107.12L203.02 107.32L203.20 107.53L203.38 107.73L203.55 107.93L203.73 108.14L203.90 108.33L204.08 108.53L204.26 108.73L204.43 108.92L204.61 109.11L204.79 109.29L204.96 109.47L205.14 109.65L205.31 109.83L205.49 110.00L205.67 110.16L205.84 110.32L206.02 110.48L206.20 110.63L206.37 110.78L206.55 110.92L206.73 111.06L206.90 111.19L207.08 111.31L207.25 111.43L207.43 111.55L207.61 111.65L207.78 111.75L207.96 111.85L208.14 111.94L208.31 112.02L208.49 112.10L208.66 112.17L208.84 112.23L209.02 112.29L209.19 112.34L209.37 112.38L209.55 112.42L209.72 112.45L209.90 112.47L210.08 112.49L210.25 112.50L210.43 112.51L210.60 112.50L210.78 112.50L210.96 112.48L211.13 112.46L211.31 112.43L211.49 112.40L211.66 112.36L211.84 112.31L212.02 112.26L212.19 112.20L212.37 112.13L212.54 112.06L212.72 111.98L212.90 111.90L213.07 111.81L213.25 111.71L213.43 111.61L213.60 111.50L213.78 111.39L213.95 111.27L214.13 111.15L214.31 111.02L214.48 110.88L214.66 110.75L214.84 110.60L215.01 110.46L215.19 110.30L215.37 110.15L215.54 109.99L215.72 109.83L215.89 109.66L216.07 109.49L216.25 109.31L216.42 109.14L216.60 108.96L216.78 108.78L216.95 108.59L217.13 108.40L217.31 108.21L217.48 108.02L217.66 107.83L217.83 107.64L218.01 107.44L218.19 107.25L218.36 107.05L218.54 106.85L218.72 106.65L218.89 106.46L219.07 106.26L219.24 106.06L219.42 105.86L219.60 105.67L219.77 105.47L219.95 105.28L220.13 105.08L220.30 104.89L220.48 104.70L220.66 104.51L220.83 104.32L221.01 104.14L221.18 103.96L221.36 103.78L221.54 103.60L221.71 103.43L221.89 103.26L222.07 103.09L222.24 102.92L222.42 102.76L222.60 102.60L222.77 102.45L222.95 102.30L223.12 102.15L223.30 102.01L223.48 101.87L223.65 101.74L223.83 101.61L224.01 101.48L224.18 101.36L224.36 101.25L224.53 101.14L224.71 101.03L224.89 100.93L225.06 100.83L225.24 100.74L225.42 100.65L225.59 100.56L225.77 100.49L225.95 100.41L226.12 100.34L226.30 100.28L226.47 100.22L226.65 100.17L226.83 100.12L227.00 100.07L227.18 100.04L227.36 100.00L227.53 99.97L227.71 99.95L227.88 99.93L228.06 99.91L228.24 99.90L228.41 99.89L228.59 99.89L228.77 99.89L228.94 99.90L229.12 99.91L229.30 99.92L229.47 99.94L229.65 99.96L229.82 99.99L230.00 100.02L230.18 100.05L230.35 100.09L230.53 100.13L230.71 100.18L230.88 100.23L231.06 100.29L231.24 100.34L231.41 100.41L231.59 100.47L231.76 100.54L231.94 100.61L232.12 100.69L232.29 100.77L232.47 100.85L232.65 100.94L232.82 101.03L233.00 101.12L233.17 101.21L233.35 101.31L233.53 101.41L233.70 101.52L233.88 101.62L234.06 101.73L234.23 101.85L234.41 101.96L234.59 102.08L234.76 102.20L234.94 102.32L235.11 102.44L235.29 102.57L235.47 102.70L235.64 102.83L235.82 102.96L236.00 103.10L236.17 103.23L236.35 103.37L236.53 103.51L236.70 103.65L236.88 103.80L237.05 103.94L237.23 104.09L237.41 104.23L237.58 104.38L237.76 104.53L237.94 104.68L238.11 104.83L238.29 104.98L238.46 105.13L238.64 105.29L238.82 105.44L238.99 105.60L239.17 105.75L239.35 105.91L239.52 106.06L239.70 106.22L239.88 106.37L240.05 106.53L240.23 106.69L240.40 106.84L240.58 107.00L240.76 107.15L240.93 107.31L241.11 107.47L241.29 107.62L241.46 107.78L241.64 107.93L241.82 108.08L241.99 108.24L242.17 108.39L242.34 108.54L242.52 108.69L242.70 108.84L242.87 108.99L243.05 109.14L243.23 109.29L243.40 109.43L243.58 109.58L243.75 109.72L243.93 109.86L244.11 110.00L244.28 110.14L244.46 110.28L244.64 110.42L244.81 110.56L244.99 110.69L245.17 110.82L245.34 110.95L245.52 111.08L245.69 111.21L245.87 111.34L246.05 111.46L246.22 111.59L246.40 111.71L246.58 111.83L246.75 111.94L246.93 112.06L247.10 112.17L247.28 112.28L247.46 112.39L247.63 112.50L247.81 112.61L247.99 112.71L248.16 112.81L248.34 112.91L248.52 113.01L248.69 113.11L248.87 113.20L249.04 113.29L249.22 113.38L249.40 113.47L249.57 113.55L249.75 113.63L249.93 113.71L250.10 113.79L250.28 113.87L250.46 113.94L250.63 114.01L250.81 114.08L250.98 114.15L251.16 114.21L251.34 114.27L251.51 114.33L251.69 114.39L251.87 114.45L252.04 114.50L252.22 114.55L252.39 114.60L252.57 114.65L252.75 114.69L252.92 114.73L253.10 114.77L253.28 114.81L253.45 114.85L253.63 114.88L253.81 114.91L253.98 114.94L254.16 114.96L254.33 114.99L254.51 115.01L254.69 115.03L254.86 115.05L255.04 115.06L255.22 115.07L255.39 115.09L255.57 115.09L255.75 115.10L255.92 115.11L256.10 115.11L256.27 115.11L256.45 115.11L256.63 115.10L256.80 115.10L256.98 115.09L257.16 115.08L257.33 115.07L257.51 115.05L257.68 115.04L257.86 115.02L258.04 115.00L258.21 114.98L258.39 114.95L258.57 114.93L258.74 114.90L258.92 114.87L259.10 114.84L259.27 114.80L259.45 114.77L259.62 114.73L259.80 114.69L259.98 114.65L260.15 114.60L260.33 114.56L260.51 114.51L260.68 114.46L260.86 114.41L261.04 114.35L261.21 114.30L261.39 114.24L261.56 114.18L261.74 114.12L261.92 114.06L262.09 114.00L262.27 113.93L262.45 113.87L262.62 113.80L262.80 113.73L262.97 113.65L263.15 113.58L263.33 113.51L263.50 113.43L263.68 113.35L263.86 113.27L264.03 113.19L264.21 113.11L264.39 113.02L264.56 112.94L264.74 112.85L264.91 112.76L265.09 112.67L265.27 112.58L265.44 112.49L265.62 112.40L265.80 112.30L265.97 112.21L266.15 112.11L266.32 112.01L266.50 111.91L266.68 111.81L266.85 111.71L267.03 111.61L267.21 111.51L267.38 111.40L267.56 111.30L267.74 111.19L267.91 111.08L268.09 110.97L268.26 110.86L268.44 110.76L268.62 110.64L268.79 110.53L268.97 110.42L269.15 110.31L269.32 110.20L269.50 110.08L269.68 109.97L269.85 109.85L270.03 109.74L270.20 109.62L270.38 109.50L270.56 109.39L270.73 109.27L270.91 109.15L271.09 109.03L271.26 108.91L271.44 108.79L271.61 108.67L271.79 108.55L271.97 108.43L272.14 108.31L272.32 108.19L272.50 108.07L272.67 107.95L272.85 107.83L273.03 107.71L273.20 107.59L273.38 107.47L273.55 107.34L273.73 107.22L273.91 107.10L274.08 106.98L274.26 106.86L274.44 106.74L274.61 106.62L274.79 106.50L274.97 106.38L275.14 106.26L275.32 106.14L275.49 106.02L275.67 105.90L275.85 105.78L276.02 105.66L276.20 105.54L276.38 105.42L276.55 105.30L276.73 105.19L276.90 105.07L277.08 104.95L277.26 104.84L277.43 104.72L277.61 104.61L277.79 104.49L277.96 104.38L278.14 104.26L278.32 104.15L278.49 104.04L278.67 103.93L278.84 103.82L279.02 103.71L279.20 103.60L279.37 103.49L279.55 103.38L279.73 103.27L279.90 103.17L280.08 103.06L280.26 102.96L280.43 102.85L280.61 102.75L280.78 102.64L280.96 102.54L281.14 102.44L281.31 102.34L281.49 102.24L281.67 102.14L281.84 102.05L282.02 101.95L282.19 101.85L282.37 101.76L282.55 101.67L282.72 101.57L282.90 101.48" fill="none" stroke="#179c17" stroke-width="1.6"/>
<path d="M71.48 249.30L71.74 249.30L72.01 249.30L72.27 249.30L72.54 249.30L72.80 249.30L73.07 249.30L73.33 249.30L73.60 249.30L73.86 249.30L74.13 249.30L74.39 249.30L74.66 249.30L74.92 249.30L75.18 249.30L75.45 249.30L75.71 249.30L75.98 249.30L76.24 249.30L76.51 249.30L76.77 249.30L77.04 249.30L77.30 249.30L77.57 249.30L77.83 249.30L78.10 249.30L78.36 249.30L78.62 249.30L78.89 249.30L79.15 249.30L79.42 249.30L79.68 249.30L79.95 249.30L80.21 249.30L80.48 249.30L80.74 249.30L81.01 249.30L81.27 249.30L81.54 249.30L81.80 249.30L82.06 249.30L82.33 249.30L82.59 249.30L82.86 249.30L83.12 249.30L83.39 249.30L83.65 249.30L83.92 249.30L84.18 249.30L84.45 249.30L84.71 249.30L84.97 249.30L85.24 249.30L85.50 249.30L85.77 249.30L86.03 249.30L86.30 249.30L86.56 249.30L86.83 249.30L87.09 249.30L87.36 249.30L87.62 249.30L87.89 249.30L88.15 249.30L88.41 249.30L88.68 249.30L88.94 249.30L89.21 249.30L89.47 249.30L89.74 249.30L90.00 249.30L90.27 249.30L90.53 249.30L90.80 249.30L91.06 249.30L91.33 249.30L91.59 249.30L91.85 249.30L92.12 249.30L92.38 249.30L92.65 249.30L92.91 249.30L93.18 249.29L93.44 249.29L93.71 249.29L93.97 249.29L94.24 249.29L94.50 249.28L94.77 249.28L95.03 249.28L95.29 249.27L95.56 249.26L95.82 249.26L96.09 249.25L96.35 249.24L96.62 249.23L96.88 249.21L97.15 249.19L97.41 249.17L97.68 249.15L97.94 249.12L98.21 249.09L98.47 249.06L98.73 249.01L99.00 248.96L99.26 248.91L99.53 248.84L99.79 248.77L100.06 248.68L100.32 248.58L100.59 248.47L100.85 248.35L101.12 248.21L101.38 248.05L101.65 247.87L101.91 247.67L102.17 247.44L102.44 247.19L102.70 246.92L102.97 246.61L103.23 246.27L103.50 245.90L103.76 245.49L104.03 245.04L104.29 244.55L104.56 244.02L104.82 243.44L105.08 242.81L105.35 242.14L105.61 241.42L105.88 240.64L106.14 239.82L106.41 238.93L106.67 238.00L106.94 237.01L107.20 235.97L107.47 234.88L107.73 233.74L108.00 232.54L108.26 231.30L108.52 230.02L108.79 228.70L109.05 227.34L109.32 225.95L109.58 224.54L109.85 223.10L110.11 221.65L110.38 220.19L110.64 218.73L110.91 217.28L111.17 215.84L111.44 214.43L111.70 213.05L111.96 211.70L112.23 210.40L112.49 209.16L112.76 207.98L113.02 206.87L113.29 205.84L113.55 204.90L113.82 204.05L114.08 203.30L114.35 202.65L114.61 202.11L114.88 201.68L115.14 201.37L115.40 201.17L115.67 201.10L115.93 201.15L116.20 201.31L116.46 201.60L116.73 202.00L116.99 202.51L117.26 203.14L117.52 203.86L117.79 204.69L118.05 205.61L118.32 206.62L118.58 207.72L118.84 208.88L119.11 210.11L119.37 211.39L119.64 212.73L119.90 214.10L120.17 215.51L120.43 216.94L120.70 218.39L120.96 219.85L121.23 221.31L121.49 222.76L121.76 224.20L122.02 225.62L122.28 227.02L122.55 228.39L122.81 229.72L123.08 231.01L123.34 232.26L123.61 233.46L123.87 234.62L124.14 235.72L124.40 236.78L124.67 237.78L124.93 238.72L125.19 239.61L125.46 240.45L125.72 241.24L125.99 241.98L126.25 242.66L126.52 243.30L126.78 243.89L127.05 244.43L127.31 244.93L127.58 245.39L127.84 245.80L128.11 246.19L128.37 246.53L128.63 246.85L128.90 247.13L129.16 247.39L129.43 247.62L129.69 247.82L129.96 248.01L130.22 248.17L130.49 248.32L130.75 248.45L131.02 248.56L131.28 248.66L131.55 248.75L131.81 248.82L132.07 248.89L132.34 248.95L132.60 249.00L132.87 249.05L133.13 249.08L133.40 249.12L133.66 249.15L133.93 249.17L134.19 249.19L134.46 249.21L134.72 249.22L134.99 249.24L135.25 249.25L135.51 249.26L135.78 249.26L136.04 249.27L136.31 249.27L136.57 249.28L136.84 249.28L137.10 249.29L137.37 249.29L137.63 249.29L137.90 249.29L138.16 249.29L138.43 249.30L138.69 249.30L138.95 249.30L139.22 249.30L139.48 249.30L139.75 249.30L140.01 249.30L140.28 249.30L140.54 249.30L140.81 249.30L141.07 249.30L141.34 249.30L141.60 249.30L141.87 249.30L142.13 249.30L142.39 249.30L142.66 249.30L142.92 249.30L143.19 249.30L143.45 249.30L143.72 249.30L143.98 249.30L144.25 249.30L144.51 249.30L144.78 249.30L145.04 249.30L145.31 249.30L145.57 249.30L145.83 249.30L146.10 249.30L146.36 249.30L146.63 249.30L146.89 249.30L147.16 249.30L147.42 249.30L147.69 249.30L147.95 249.30L148.22 249.30L148.48 249.30L148.74 249.30L149.01 249.30L149.27 249.30L149.54 249.30L149.80 249.30L150.07 249.30L150.33 249.30L150.60 249.30L150.86 249.30L151.13 249.30L151.39 249.30L151.66 249.30L151.92 249.30L152.18 249.30L152.45 249.30L152.71 249.30L152.98 249.30L153.24 249.30L153.51 249.30L153.77 249.30L154.04 249.30L154.30 249.30L154.57 249.30L154.83 249.30L155.10 249.30L155.36 249.30L155.62 249.30L155.89 249.30L156.15 249.30L156.42 249.30L156.68 249.30L156.95 249.30L157.21 249.30L157.48 249.30L157.74 249.30L158.01 249.30L158.27 249.30L158.54 249.30L158.80 249.30L159.06 249.30L159.33 249.30L159.59 249.30L159.86 249.30L160.12 249.30L160.39 249.30L160.65 249.30L160.92 249.30L161.18 249.30L161.45 249.30L161.71 249.30L161.98 249.30L162.24 249.30L162.50 249.30L162.77 249.30L163.03 249.30L163.30 249.30L163.56 249.30L163.83 249.30L164.09 249.30L164.36 249.30L164.62 249.30L164.89 249.30L165.15 249.30L165.42 249.30L165.68 249.30L165.94 249.30L166.21 249.30L166.47 249.30L166.74 249.30L167.00 249.30L167.27 249.30L167.53 249.30L167.80 249.30L168.06 249.30L168.33 249.30L168.59 249.30L168.85 249.30L169.12 249.30L169.38 249.30L169.65 249.30L169.91 249.30L170.18 249.30L170.44 249.30L170.71 249.30L170.97 249.30L171.24 249.30L171.50 249.30L171.77 249.30L172.03 249.30L172.29 249.30L172.56 249.30L172.82 249.30L173.09 249.30L173.35 249.30L173.62 249.30L173.88 249.30L174.15 249.30L174.41 249.30L174.68 249.30L174.94 249.30L175.21 249.30L175.47 249.30L175.73 249.30L176.00 249.30L176.26 249.30L176.53 249.30L176.79 249.30L177.06 249.30L177.32 249.30L177.59 249.30L177.85 249.30L178.12 249.30L178.38 249.30L178.65 249.30L178.91 249.30L179.17 249.30L179.44 249.30L179.70 249.30L179.97 249.30L180.23 249.30L180.50 249.30L180.76 249.30L181.03 249.30L181.29 249.30L181.56 249.30L181.82 249.30L182.09 249.30L182.35 249.30L182.61 249.30L182.88 249.30L183.14 249.30L183.41 249.30L183.67 249.30L183.94 249.30L184.20 249.30L184.47 249.30L184.73 249.30L185.00 249.30L185.26 249.30L185.53 249.30L185.79 249.30L186.05 249.30L186.32 249.30L186.58 249.30L186.85 249.30L187.11 249.30L187.38 249.30L187.64 249.30L187.91 249.30L188.17 249.30L188.44 249.30L188.70 249.30L188.96 249.30L189.23 249.30L189.49 249.30L189.76 249.30L190.02 249.30L190.29 249.30L190.55 249.30L190.82 249.30L191.08 249.30L191.35 249.30L191.61 249.30L191.88 249.30L192.14 249.30L192.40 249.30L192.67 249.30L192.93 249.30L193.20 249.30L193.46 249.30L193.73 249.30L193.99 249.30L194.26 249.30L194.52 249.30L194.79 249.30L195.05 249.30L195.32 249.30L195.58 249.30L195.84 249.30L196.11 249.30L196.37 249.30L196.64 249.30L196.90 249.30L197.17 249.30L197.43 249.30L197.70 249.30L197.96 249.30L198.23 249.30L198.49 249.30L198.76 249.30L199.02 249.30L199.28 249.30L199.55 249.30L199.81 249.30L200.08 249.30L200.34 249.30L200.61 249.30L200.87 249.30L201.14 249.30L201.40 249.30L201.67 249.30L201.93 249.30L202.20 249.30L202.46 249.30L202.72 249.30L202.99 249.30L203.25 249.30L203.52 249.30L203.78 249.30L204.05 249.30L204.31 249.30L204.58 249.30L204.84 249.30L205.11 249.30L205.37 249.30L205.64 249.30L205.90 249.30L206.16 249.30L206.43 249.30L206.69 249.30L206.96 249.30L207.22 249.30L207.49 249.30L207.75 249.30L208.02 249.30L208.28 249.30L208.55 249.30L208.81 249.30L209.07 249.30L209.34 249.30L209.60 249.30L209.87 249.30L210.13 249.30L210.40 249.30L210.66 249.30L210.93 249.30L211.19 249.30L211.46 249.30L211.72 249.30L211.99 249.30L212.25 249.30L212.51 249.30L212.78 249.30L213.04 249.30L213.31 249.30L213.57 249.30L213.84 249.30L214.10 249.30L214.37 249.30L214.63 249.30L214.90 249.30L215.16 249.30L215.43 249.30L215.69 249.30L215.95 249.30L216.22 249.30L216.48 249.30L216.75 249.30L217.01 249.30L217.28 249.30L217.54 249.30L217.81 249.30L218.07 249.30L218.34 249.30L218.60 249.30L218.87 249.30L219.13 249.30L219.39 249.30L219.66 249.30L219.92 249.30L220.19 249.30L220.45 249.30L220.72 249.30L220.98 249.30L221.25 249.30L221.51 249.30L221.78 249.30L222.04 249.30L222.31 249.30L222.57 249.30L222.83 249.30L223.10 249.30L223.36 249.30L223.63 249.30L223.89 249.30L224.16 249.30L224.42 249.30L224.69 249.30L224.95 249.30L225.22 249.30L225.48 249.30L225.75 249.30L226.01 249.30L226.27 249.30L226.54 249.30L226.80 249.30L227.07 249.30L227.33 249.30L227.60 249.30L227.86 249.30L228.13 249.30L228.39 249.30L228.66 249.30L228.92 249.30L229.19 249.30L229.45 249.30L229.71 249.30L229.98 249.30L230.24 249.30L230.51 249.30L230.77 249.30L231.04 249.30L231.30 249.30L231.57 249.30L231.83 249.30L232.10 249.30L232.36 249.30L232.62 249.30L232.89 249.30L233.15 249.30L233.42 249.30L233.68 249.30L233.95 249.30L234.21 249.30L234.48 249.30L234.74 249.30L235.01 249.30L235.27 249.30L235.54 249.30L235.80 249.30L236.06 249.30L236.33 249.30L236.59 249.30L236.86 249.30L237.12 249.30L237.39 249.30L237.65 249.30L237.92 249.30L238.18 249.30L238.45 249.30L238.71 249.30L238.98 249.30L239.24 249.30L239.50 249.30L239.77 249.30L240.03 249.30L240.30 249.30L240.56 249.30L240.83 249.30L241.09 249.30L241.36 249.30L241.62 249.30L241.89 249.30L242.15 249.30L242.42 249.30L242.68 249.30L242.94 249.30L243.21 249.30L243.47 249.30L243.74 249.30L244.00 249.30L244.27 249.30L244.53 249.30L244.80 249.30L245.06 249.30L245.33 249.30L245.59 249.30L245.86 249.30L246.12 249.30L246.38 249.30L246.65 249.30L246.91 249.30L247.18 249.30L247.44 249.30L247.71 249.30L247.97 249.30L248.24 249.30L248.50 249.30L248.77 249.30L249.03 249.30L249.30 249.30L249.56 249.30L249.82 249.30L250.09 249.30L250.35 249.30L250.62 249.30L250.88 249.30L251.15 249.30L251.41 249.30L251.68 249.30L251.94 249.30L252.21 249.30L252.47 249.30L252.73 249.30L253.00 249.30L253.26 249.30L253.53 249.30L253.79 249.30L254.06 249.30L254.32 249.30L254.59 249.30L254.85 249.30L255.12 249.30L255.38 249.30L255.65 249.30L255.91 249.30L256.17 249.30L256.44 249.30L256.70 249.30L256.97 249.30L257.23 249.30L257.50 249.30L257.76 249.30L258.03 249.30L258.29 249.30L258.56 249.30L258.82 249.30L259.09 249.30L259.35 249.30L259.61 249.30L259.88 249.30L260.14 249.30L260.41 249.30L260.67 249.30L260.94 249.30L261.20 249.30L261.47 249.30L261.73 249.30L262.00 249.30L262.26 249.30L262.53 249.30L262.79 249.30L263.05 249.30L263.32 249.30L263.58 249.30L263.85 249.30L264.11 249.30L264.38 249.30L264.64 249.30L264.91 249.30L265.17 249.30L265.44 249.30L265.70 249.30L265.97 249.30L266.23 249.30L266.49 249.30L266.76 249.30L267.02 249.30L267.29 249.30L267.55 249.30L267.82 249.30L268.08 249.30L268.35 249.30L268.61 249.30L268.88 249.30L269.14 249.30L269.41 249.30L269.67 249.30L269.93 249.30L270.20 249.30L270.46 249.30L270.73 249.30L270.99 249.30L271.26 249.30L271.52 249.30L271.79 249.30L272.05 249.30L272.32 249.30L272.58 249.30L272.84 249.30L273.11 249.30L273.37 249.30L273.64 249.30L273.90 249.30L274.17 249.30L274.43 249.30L274.70 249.30L274.96 249.30L275.23 249.30L275.49 249.30L275.76 249.30L276.02 249.30L276.28 249.30L276.55 249.30L276.81 249.30L277.08 249.30L277.34 249.30L277.61 249.30L277.87 249.30L278.14 249.30L278.40 249.30L278.67 249.30L278.93 249.30L279.20 249.30L279.46 249.30L279.72 249.30L279.99 249.30L280.25 249.30L280.52 249.30L280.78 249.30L281.05 249.30L281.31 249.30L281.58 249.30L281.84 249.30L282.11 249.30L282.37 249.30L282.64 249.30L282.90 249.30" fill="none" stroke="#ff0000" stroke-width="1.5"/>
<line x1="117" y1="249.4" x2="117" y2="116" stroke="#9090ff" stroke-width="2"/>
<path d="M117 108.4 L119.2 117.7 L117 117.2 L114.8 117.7 Z" fill="#2a2aff"/>
<line x1="277" y1="141" x2="277" y2="245" stroke="#8a8a8a" stroke-width="2"/>
<path d="M277 137.0 L278.8 142.5 L277 141.8 L275.2 142.5 Z" fill="#000"/>
<path d="M277 248.8 L278.7 243.8 L277 244.5 L275.3 243.8 Z" fill="#000"/>
<text x="63.3" y="98.8" font-size="11.5">X<tspan font-size="7" dy="-4.2">1</tspan><tspan dy="4.2">Σ</tspan><tspan font-size="7" dy="-4.2">+</tspan></text>
<text x="112.6" y="63.7" font-size="11.5">A<tspan font-size="7" dy="-4.2">1</tspan><tspan dy="4.2">Σ</tspan><tspan font-size="7" dy="-4.2">+</tspan></text>
<text transform="translate(287.4 99.9) scale(1.035 1)" font-size="11">Ba<tspan font-size="7" dy="-4">+</tspan><tspan dy="4">(5d</tspan><tspan font-size="7.8" dy="3.6">5/2</tspan><tspan dy="-3.6">) + H(1s</tspan><tspan font-size="7.8" dy="3.6">1/2</tspan><tspan dy="-3.6">)</tspan></text>
<text transform="translate(287.4 115.1) scale(1.035 1)" font-size="11">Ba<tspan font-size="7" dy="-4">+</tspan><tspan dy="4">(5d</tspan><tspan font-size="7.8" dy="3.6">3/2</tspan><tspan dy="-3.6">) + H(1s</tspan><tspan font-size="7.8" dy="3.6">1/2</tspan><tspan dy="-3.6">)</tspan></text>
<text transform="translate(284.6 142.8) scale(1.035 1)" font-size="11">Ba<tspan font-size="7" dy="-4">+</tspan><tspan dy="4">(6s</tspan><tspan font-size="7.8" dy="3.6">1/2</tspan><tspan dy="-3.6">) + H(1s</tspan><tspan font-size="7.8" dy="3.6">1/2</tspan><tspan dy="-3.6">)</tspan></text>
<text x="281.0" y="197.4" font-size="16">D<tspan font-size="10.6" dy="2.9">0</tspan></text>
<text transform="translate(112.0 160) rotate(-90)" text-anchor="middle" font-size="10.5" fill="#2020ff">Laser excitation</text>
</svg></body></html>
